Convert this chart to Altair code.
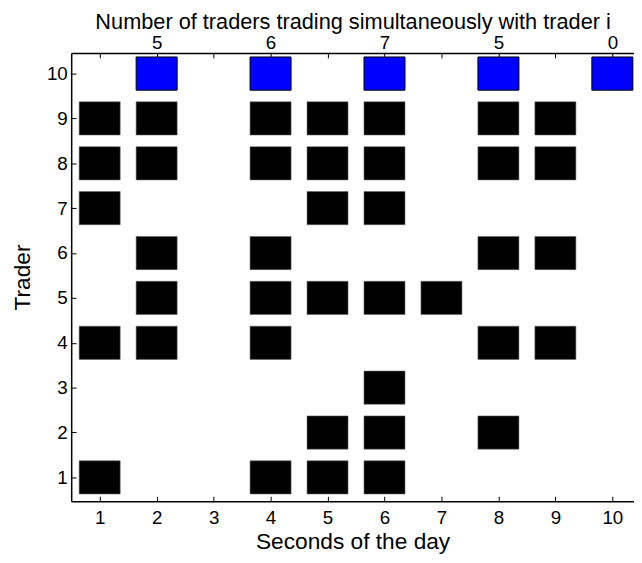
import altair as alt
import pandas as pd

# Seconds at which each trader trades (traders 1..9)
trader_seconds = {
    1: [1, 4, 5, 6],
    2: [5, 6, 8],
    3: [6],
    4: [1, 2, 4, 8, 9],
    5: [2, 4, 5, 6, 7],
    6: [2, 4, 8, 9],
    7: [1, 5, 6],
    8: [1, 2, 4, 5, 6, 8, 9],
    9: [1, 2, 4, 5, 6, 8, 9],
}
# Trader i (=10) trading seconds and number of simultaneous traders
trader_i = 10
trader_i_seconds = [2, 4, 6, 8, 10]
simultaneous_counts = [5, 6, 7, 5, 0]

x_ticks = list(range(1, 11))
y_ticks = list(range(1, 11))

HW = 0.36  # half width of a cell in data units
HH = 0.37

rows = []
for t, secs in trader_seconds.items():
    for s in secs:
        rows.append({"sec": s, "trader": t, "kind": "other"})
for s in trader_i_seconds:
    rows.append({"sec": s, "trader": trader_i, "kind": "i"})
df = pd.DataFrame(rows)
df["x1"] = df["sec"] - HW
df["x2"] = df["sec"] + HW
df["y1"] = df["trader"] - HH
df["y2"] = df["trader"] + HH

label_map = " : ".join(
    f"datum.value == {s} ? '{c}'" for s, c in zip(trader_i_seconds, simultaneous_counts)
) + " : ''"

xscale = alt.Scale(domain=[0.5, 10.38], nice=False, zero=False)
yscale = alt.Scale(domain=[0.47, 10.46], nice=False, zero=False)

FONT = "Liberation Sans"
LFS = 19
TFS = 23

common = dict(
    ticks=False, grid=True, gridDash=[5, 2000], gridColor="black",
    gridOpacity=1, gridWidth=1, domainColor="black", domainWidth=1.5,
    labelFontSize=LFS,
    labelColor="black", titleColor="black", titleFontWeight="normal",
    labelFont=FONT, titleFont=FONT,
)

base = alt.Chart(df)

others = base.transform_filter("datum.kind == 'other'").mark_rect(
    color="black", stroke="#666666", strokeWidth=0.6
).encode(
    x=alt.X("x1:Q", scale=xscale, axis=alt.Axis(
        values=x_ticks, title="Seconds of the day", orient="bottom",
        titleFontSize=TFS, labelPadding=8, titlePadding=3, **common)),
    x2="x2:Q",
    y=alt.Y("y1:Q", scale=yscale, axis=alt.Axis(
        values=y_ticks, title="Trader", orient="left",
        titleFontSize=TFS, labelPadding=4, titlePadding=12, **common)),
    y2="y2:Q",
)

blue = base.transform_filter("datum.kind == 'i'").mark_rect(
    color="#0000ff", stroke="black", strokeWidth=1
).encode(
    x=alt.X("x1:Q", scale=xscale, axis=alt.Axis(
        values=x_ticks, labelExpr=label_map, orient="top",
        title="Number of traders trading simultaneously with trader i",
        titleFontSize=22, labelPadding=0, titlePadding=1, **common)),
    x2="x2:Q",
    y=alt.Y("y1:Q", scale=yscale),
    y2="y2:Q",
)

chart = alt.layer(others, blue).resolve_axis(x="independent").properties(
    width=570, height=454,
    autosize=alt.AutoSizeParams(type="none"),
    padding={"left": 64, "top": 42, "right": 0, "bottom": 50},
    background="white",
).configure_view(stroke=None)

chart.save("out.html", embed_options={"renderer": "svg", "actions": False})
